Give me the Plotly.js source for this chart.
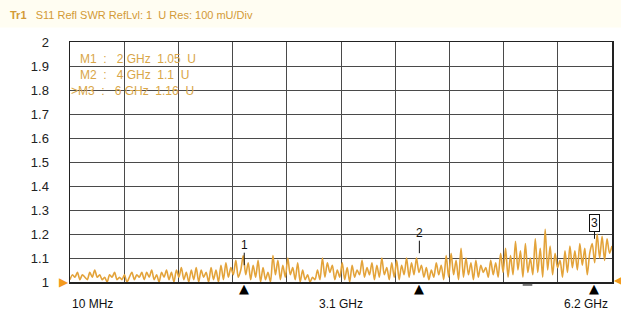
<!DOCTYPE html>
<html>
<head>
<meta charset="utf-8">
<script src="https://cdn.plot.ly/plotly-3.0.1.min.js"></script>
<style>html,body{margin:0;padding:0;background:#fff;}#chart{width:621px;height:316px;}</style>
</head>
<body>
<div id="chart"></div>
<script>
// Sweep: 10 MHz .. 6.2 GHz, 220 points (GHz)
const freqStart = 0.01;
const freqStop = 6.2;
const nPoints = 220;
const swr = [
  1.01,1.03,1.02,1.04,1.01,1.03,1.02,1.01,1.04,1.02,
  1.05,1.02,1.03,1.01,1.02,1.00,1.03,1.02,1.04,1.01,
  1.02,1.01,1.03,1.00,1.02,1.04,1.01,1.03,1.02,1.04,
  1.01,1.04,1.02,1.05,1.01,1.03,1.00,1.04,1.02,1.05,
  1.01,1.04,1.00,1.05,1.02,1.06,1.01,1.04,1.00,1.05,
  1.01,1.06,1.00,1.05,1.02,1.04,1.00,1.06,1.01,1.05,
  1.00,1.07,1.01,1.08,1.02,1.06,1.03,1.09,1.02,1.05,
  1.11,1.03,1.08,1.01,1.07,1.02,1.09,1.00,1.06,1.01,
  1.04,1.00,1.11,1.03,1.09,1.01,1.07,1.02,1.10,1.03,
  1.06,1.01,1.08,1.00,1.05,1.01,1.03,1.00,1.02,1.01,
  1.05,1.01,1.10,1.02,1.08,1.04,1.07,1.01,1.05,1.02,
  1.08,1.01,1.06,1.00,1.07,1.02,1.05,1.03,1.09,1.02,
  1.06,1.03,1.08,1.01,1.07,1.02,1.10,1.03,1.06,1.01,
  1.08,1.02,1.09,1.01,1.07,1.03,1.10,1.02,1.08,1.03,
  1.10,1.04,1.07,1.02,1.06,1.01,1.05,1.02,1.08,1.03,
  1.07,1.01,1.11,1.02,1.12,1.03,1.09,1.01,1.14,1.02,
  1.10,1.03,1.08,1.01,1.09,1.02,1.07,1.04,1.06,1.02,
  1.09,1.03,1.08,1.02,1.12,1.04,1.14,1.02,1.11,1.03,
  1.17,1.05,1.13,1.02,1.16,1.04,1.10,1.03,1.18,1.04,
  1.14,1.02,1.22,1.05,1.15,1.03,1.12,1.06,1.09,1.02,
  1.13,1.04,1.15,1.06,1.13,1.05,1.16,1.07,1.14,1.03,
  1.12,1.16,1.08,1.20,1.10,1.19,1.09,1.18,1.12,1.15
];
const freqs = [];
for (let i = 0; i < nPoints; i++) freqs.push(freqStart + i * (freqStop - freqStart) / (nPoints - 1));

const markerNames = ["1", "2", "3"];
const markerFreq = [2, 4, 6];
const markerVal = [1.05, 1.1, 1.16];
const markerText = ["M1  :   2 GHz  1.05  U", "M2  :   4 GHz  1.1  U", ">M3  :   6 GHz  1.16  U"];
const yTicks = [1, 1.1, 1.2, 1.3, 1.4, 1.5, 1.6, 1.7, 1.8, 1.9, 2];
const yTickText = ["1", "1.1", "1.2", "1.3", "1.4", "1.5", "1.6", "1.7", "1.8", "1.9", "2"];
const xLabels = ["10 MHz", "3.1 GHz", "6.2 GHz"];
const xLabelPos = [0.01, 3.105, 6.2];
const refLevel = 1;

const orange = "#E3A33A";
const tan = "#D9A648";
const font = "Liberation Sans, Arial, sans-serif";

const traces = [
  {x: freqs, y: swr, type: "scatter", mode: "lines",
   line: {color: orange, width: 1.6, shape: "spline", smoothing: 0.8}, hoverinfo: "skip"}
];

const annotations = [];
// marker flags
markerNames.forEach((n, i) => {
  const boxed = i === 2;
  annotations.push({
    x: markerFreq[i], y: markerVal[i] + 0.02, xref: "x", yref: "y",
    text: n, showarrow: true, arrowhead: 0, arrowwidth: 1, arrowcolor: "#111",
    ax: 0, ay: boxed ? -16 : -20, standoff: 0,
    font: {family: font, size: 12, color: "#111"},
    bordercolor: boxed ? "#111" : "rgba(0,0,0,0)", borderwidth: 1, borderpad: boxed ? 1 : 0,
    bgcolor: boxed ? "#fff" : "rgba(0,0,0,0)"
  });
  // black marker triangle below axis
  annotations.push({
    x: markerFreq[i], y: 0, xref: "x", yref: "paper", yanchor: "top", yshift: 3,
    text: "▲", showarrow: false, font: {family: "DejaVu Sans", size: 13, color: "#000"}
  });
});
// reference level indicators
annotations.push({
  x: 0, y: refLevel, xref: "paper", yref: "y", xanchor: "right", xshift: 1,
  text: "▶", showarrow: false, font: {family: "DejaVu Sans", size: 12, color: "#F39A1E"}
});
annotations.push({
  x: 1, y: refLevel, xref: "paper", yref: "y", xanchor: "left", xshift: 0, yshift: 2,
  text: "◀", showarrow: false, font: {family: "DejaVu Sans", size: 12, color: "#F39A1E"}
});
// marker readouts
markerText.forEach((t, i) => {
  annotations.push({
    x: 0, y: 1, xref: "paper", yref: "paper", xanchor: "left", yanchor: "top",
    xshift: (i === 2 ? -1 : 8), yshift: -8 - 16 * i,
    text: t, showarrow: false, font: {family: font, size: 12, color: tan}
  });
});
// x labels
xLabels.forEach((t, i) => {
  annotations.push({
    x: xLabelPos[i], y: 0, xref: "x", yref: "paper",
    xanchor: i === 0 ? "left" : (i === 1 ? "center" : "right"), yanchor: "top",
    yshift: -13, xshift: i === 2 ? -2 : 0,
    text: t, showarrow: false, font: {family: font, size: 12, color: "#111"}
  });
});
// header
annotations.push({
  x: 0, y: 1, xref: "paper", yref: "paper", xanchor: "left", yanchor: "bottom",
  xshift: -62, yshift: 19,
  text: "<b>Tr1</b>&nbsp;&nbsp;&nbsp;S11 Refl SWR RefLvl: 1  U Res: 100 mU/Div",
  showarrow: false, font: {family: font, size: 11, color: "#D39A36"}
});
// bottom (cut off) trace 2 header
annotations.push({
  x: 0, y: 0, xref: "paper", yref: "paper", xanchor: "left", yanchor: "top",
  xshift: -62, yshift: -30,
  text: "Tr2&nbsp;&nbsp;&nbsp;S21 Trans LogMag 1 dB/ Ref 0 dB (Cal)",
  showarrow: false, font: {family: font, size: 11, color: "#3A5FA8"}
});

const layout = {
  width: 621, height: 316,
  margin: {l: 70, r: 9, t: 42, b: 34, pad: 0},
  paper_bgcolor: "#fff", plot_bgcolor: "#fff",
  showlegend: false,
  xaxis: {
    range: [freqStart, freqStop], tick0: freqStart, dtick: (freqStop - freqStart) / 10,
    showticklabels: false, ticks: "", showgrid: true, gridcolor: "#4a4a4a", gridwidth: 1,
    zeroline: false, showline: true, linecolor: "#222", linewidth: 1.5, mirror: true, fixedrange: true
  },
  yaxis: {
    range: [1, 2], tickvals: yTicks, ticktext: yTickText, ticks: "",
    ticklabelstandoff: 17,
    tickfont: {family: font, size: 13, color: "#222"},
    showgrid: true, gridcolor: "#4a4a4a", gridwidth: 1,
    zeroline: false, showline: true, linecolor: "#222", linewidth: 1.5, mirror: true, fixedrange: true
  },
  shapes: [
    {type: "rect", xref: "paper", yref: "paper", x0: -0.13, x1: 1.02, y0: 1.06, y1: 1.18,
     fillcolor: "#FFFDF2", line: {width: 0}, layer: "below"},
    {type: "line", xref: "x", yref: "paper", x0: 5.18, x1: 5.29, y0: -0.012, y1: -0.012,
     line: {color: "#777", width: 2}}
  ],
  annotations: annotations
};

Plotly.newPlot("chart", traces, layout, {staticPlot: true, displayModeBar: false});
</script>
</body>
</html>
